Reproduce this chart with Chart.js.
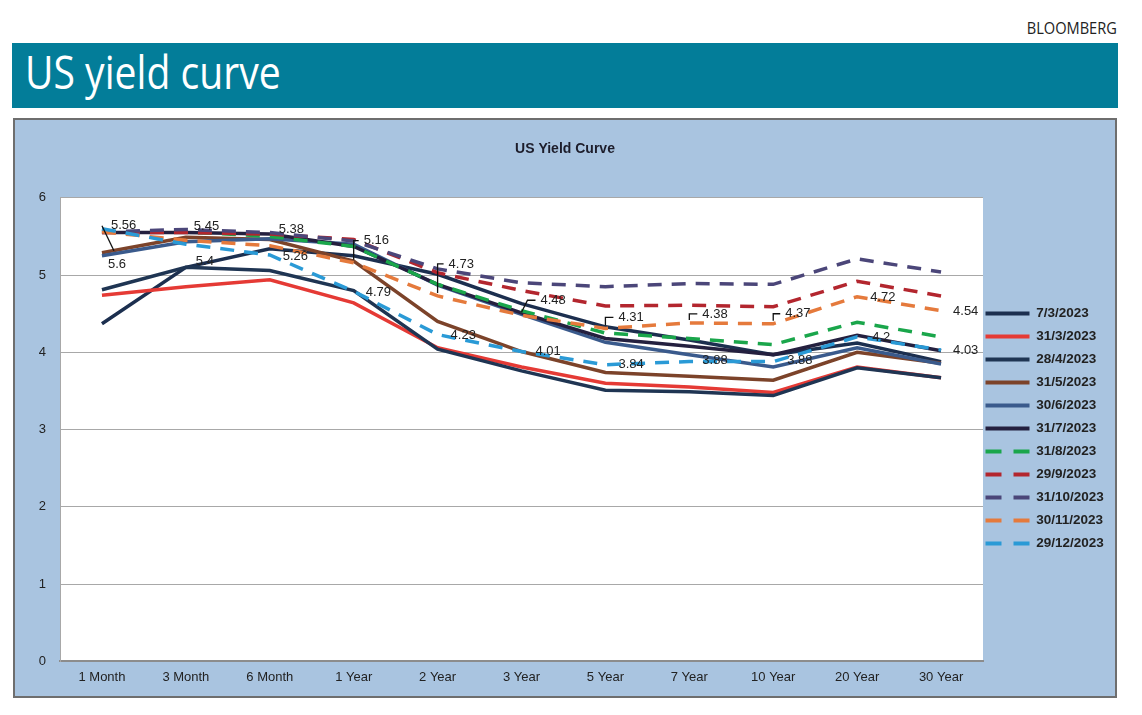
<!DOCTYPE html>
<html>
<head>
<meta charset="utf-8">
<script src="https://cdn.jsdelivr.net/npm/chart.js@4.4.1/dist/chart.umd.min.js"></script>
<style>
    body { margin: 0; background: #fff; width: 1142px; height: 715px; position: relative; overflow: hidden; }
    #source { position: absolute; right: 25px; top: 16px; font: 17px 'Open Sans', sans-serif; color: #222; transform: scaleX(0.86); transform-origin: right top; }
    #banner { position: absolute; left: 12px; top: 43px; width: 1106px; height: 65px; background: #037d99; }
    #banner h1 { margin: 0; position: absolute; left: 13px; top: 5px; color: #fff; font: 400 46px/1 'Open Sans', sans-serif; transform: scaleX(0.85); transform-origin: left top; white-space: nowrap; }
    #frame { position: absolute; left: 13px; top: 118px; width: 1100px; height: 576px; border: 2px solid #6e6e6e; background: #a9c4e0; }
    #frame canvas { display: block; }
</style>
</head>
<body>
<div id="source">BLOOMBERG</div>
<div id="banner"><h1>US yield curve</h1></div>
<div id="frame"><canvas id="curveChart" width="1100" height="576"></canvas></div>
<script>
// tenors on the x axis
const tenors = ['1 Month', '3 Month', '6 Month', '1 Year', '2 Year', '3 Year', '5 Year', '7 Year', '10 Year', '20 Year', '30 Year'];

// yields (%)
const mar07 = [4.37, 5.10, 5.34, 5.25, 5.01, 4.63, 4.33, 4.16, 3.97, 4.12, 3.88];
const mar31 = [4.74, 4.85, 4.94, 4.64, 4.06, 3.81, 3.60, 3.55, 3.48, 3.81, 3.67];
const apr28 = [4.81, 5.10, 5.06, 4.80, 4.04, 3.76, 3.51, 3.49, 3.44, 3.80, 3.67];
const may31 = [5.29, 5.49, 5.46, 5.18, 4.40, 4.01, 3.74, 3.69, 3.64, 4.00, 3.86];
const jun30 = [5.25, 5.43, 5.47, 5.40, 4.87, 4.49, 4.13, 3.97, 3.81, 4.06, 3.85];
const jul31 = [5.55, 5.55, 5.53, 5.37, 4.88, 4.51, 4.18, 4.08, 3.97, 4.22, 4.02];
const aug31 = [5.56, 5.56, 5.50, 5.37, 4.88, 4.54, 4.25, 4.18, 4.10, 4.39, 4.20];
const sep29 = [5.55, 5.55, 5.53, 5.46, 5.03, 4.80, 4.60, 4.61, 4.59, 4.92, 4.73];
const oct31 = [5.56, 5.59, 5.55, 5.44, 5.08, 4.90, 4.85, 4.89, 4.88, 5.21, 5.04];
const nov30 = [5.56, 5.45, 5.38, 5.16, 4.73, 4.48, 4.31, 4.38, 4.37, 4.72, 4.54];
const dec29 = [5.6, 5.4, 5.26, 4.79, 4.23, 4.01, 3.84, 3.88, 3.88, 4.2, 4.03];

const dates = ['7/3/2023', '31/3/2023', '28/4/2023', '31/5/2023', '30/6/2023', '31/7/2023',
               '31/8/2023', '29/9/2023', '31/10/2023', '30/11/2023', '29/12/2023'];
const series = [mar07, mar31, apr28, may31, jun30, jul31, aug31, sep29, oct31, nov30, dec29];

const colors = ['#1c2f4f', '#e53a35', '#1f3553', '#7c432a', '#3a5a8c', '#24203f',
                '#1aa64b', '#b3262e', '#4b4679', '#e57a3c', '#2a9ad6'];
const dashed = [false, false, false, false, false, false, true, true, true, true, true];

// where the value labels sit relative to their point: [dx, dy, leader]
const novLabelPos = [[9, -6], [8, -14], [9, -16], [10, -22, 'elbow'], [11, -32, 'elbow'], [19, -15, 'slant'],
                     [13, -11, 'elbow'], [13, -9, 'elbow'], [12, -10, 'elbow'], [13, 1], [12, 1]];
const decLabelPos = [[6, 36, 'down'], [10, 17], [13, 1], [12, 1], [13, 1], [14, 0],
                     [13, 0], [13, -1], [14, -1], [15, 1], [12, 0]];

const font = "'Liberation Sans', Arial, sans-serif";

// white plot background
const plotBackground = {
    id: 'plotBackground',
    beforeDraw(chart) {
        const a = chart.chartArea;
        const ctx = chart.ctx;
        ctx.save();
        ctx.fillStyle = '#ffffff';
        ctx.fillRect(a.left, a.top, a.width, a.height);
        ctx.restore();
    }
};

// nudge the legend closer to the plot and a bit lower, like the original
const legendShift = {
    id: 'legendShift',
    afterLayout(chart) {
        const lg = chart.legend;
        lg.left -= 7;
        lg.right -= 7;
        lg.top += 17;
        lg.bottom += 17;
    }
};

// value labels for the last two dates
const valueLabels = {
    id: 'valueLabels',
    afterDatasetsDraw(chart) {
        const ctx = chart.ctx;
        ctx.save();
        ctx.font = '13px ' + font;
        ctx.fillStyle = '#222';
        ctx.textBaseline = 'middle';
        ctx.strokeStyle = '#111';
        ctx.lineWidth = 1.3;
        [[9, novLabelPos], [10, decLabelPos]].forEach(([idx, pos]) => {
            const meta = chart.getDatasetMeta(idx);
            meta.data.forEach((pt, i) => {
                const [dx, dy, leader] = pos[i];
                const lx = pt.x + dx, ly = pt.y + dy;
                if (leader) {
                    ctx.beginPath();
                    ctx.moveTo(pt.x, pt.y - 3);
                    if (leader === 'elbow') {
                        ctx.lineTo(pt.x, ly);
                        ctx.lineTo(lx - 5, ly);
                    } else if (leader === 'slant') {
                        ctx.lineTo(lx - 13, ly);
                        ctx.lineTo(lx - 5, ly);
                    } else {
                        ctx.lineTo(lx + 6, ly - 14);
                    }
                    ctx.stroke();
                }
                ctx.fillText(String(series[idx][i]), lx, ly);
            });
        });
        ctx.restore();
    }
};

const ctx = document.getElementById('curveChart').getContext('2d');
new Chart(ctx, {
    type: 'line',
    data: {
        labels: tenors,
        datasets: series.map((d, i) => ({
            label: dates[i],
            data: d,
            borderColor: colors[i],
            backgroundColor: colors[i],
            borderWidth: 3.5,
            borderDash: dashed[i] ? [14, 10] : [],
            pointRadius: 0,
            tension: 0,
            fill: false,
            order: series.length - i
        }))
    },
    options: {
        responsive: false,
        animation: false,
        layout: { padding: { left: 0, right: 0, top: 10, bottom: 3 } },
        scales: {
            x: {
                offset: true,
                grid: { display: false, drawTicks: false },
                border: { display: true, color: '#8c8c8c', width: 2 },
                ticks: { padding: 8, color: '#222', font: { family: font, size: 13 } }
            },
            y: {
                min: 0,
                max: 6,
                grid: { color: '#a8a8a8', lineWidth: 1, drawTicks: false },
                border: { display: true, color: '#a8a8a8', width: 1 },
                ticks: { stepSize: 1, padding: 14, color: '#222', font: { family: font, size: 13 } },
                afterFit(scale) { scale.width = 45; }
            }
        },
        plugins: {
            title: {
                display: true,
                text: 'US Yield Curve',
                color: '#1d1d2b',
                font: { family: font, size: 14, weight: 'bold' },
                padding: { top: 11, bottom: 40 }
            },
            legend: {
                position: 'right',
                maxWidth: 132,
                labels: {
                    usePointStyle: true,
                    pointStyle: 'line',
                    pointStyleWidth: 44,
                    padding: 9.5,
                    color: '#222',
                    font: { family: font, size: 13.5, weight: 'bold' },
                    sort: (a, b) => a.datasetIndex - b.datasetIndex,
                    generateLabels(chart) {
                        const items = Chart.defaults.plugins.legend.labels.generateLabels(chart);
                        items.forEach(item => {
                            item.lineDash = dashed[item.datasetIndex] ? [16, 12] : [];
                            item.lineWidth = 4;
                            item.strokeStyle = colors[item.datasetIndex];
                        });
                        return items;
                    }
                }
            },
            tooltip: { enabled: false }
        }
    },
    plugins: [plotBackground, legendShift, valueLabels]
});
</script>
</body>
</html>
